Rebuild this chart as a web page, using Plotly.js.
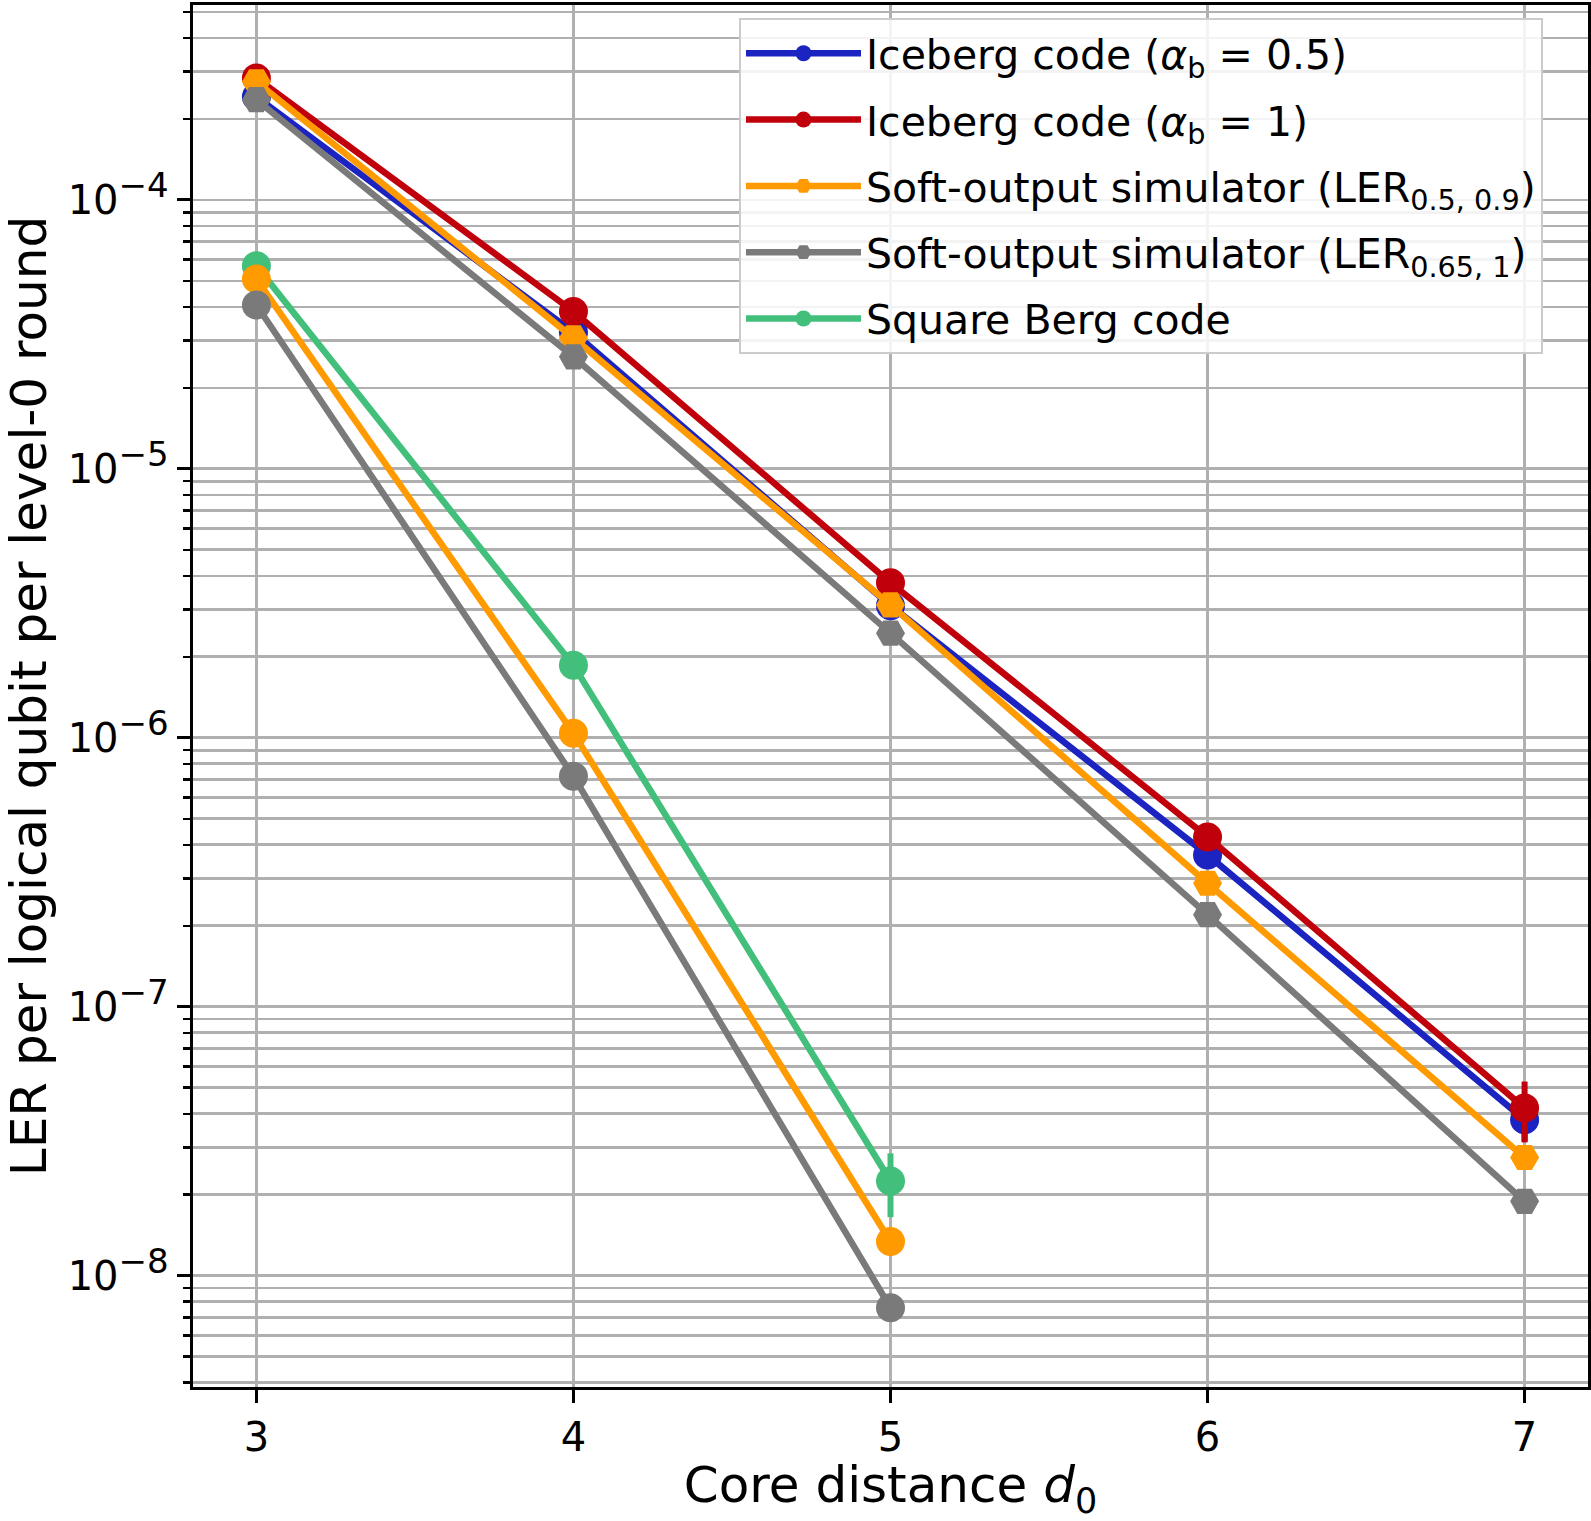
<!DOCTYPE html>
<html>
<head>
<meta charset="utf-8">
<script src="https://cdn.plot.ly/plotly-3.0.1.min.js"></script>
<style>
html,body{margin:0;padding:0;background:#fff;}
#chart{width:1591px;height:1521px;}
</style>
</head>
<body>
<div id="chart"></div>
<script>
// ---- data ----
const distance = [3, 4, 5, 6, 7];
const distanceShort = [3, 4, 5];

const icebergHalf      = [2.42e-4, 3.22e-5, 3.10e-6, 3.67e-7, 3.80e-8];
const icebergHalfErr   = [0.03e-4, 0.05e-5, 0.08e-6, 0.12e-7, 0.64e-8];
const icebergOne       = [2.84e-4, 3.85e-5, 3.77e-6, 4.28e-7, 4.20e-8];
const icebergOneErr    = [0.03e-4, 0.06e-5, 0.10e-6, 0.15e-7, 1.07e-8];
const softA            = [2.75e-4, 3.07e-5, 3.12e-6, 2.88e-7, 2.75e-8];
const softAErr         = [0.02e-4, 0.03e-5, 0.05e-6, 0.08e-7, 0.20e-8];
const softB            = [2.36e-4, 2.61e-5, 2.45e-6, 2.20e-7, 1.89e-8];
const softBErr         = [0.02e-4, 0.03e-5, 0.05e-6, 0.07e-7, 0.15e-8];

const squareBerg       = [5.69e-5, 1.86e-6, 2.25e-8];
const squareBergErr    = [0.05e-5, 0.04e-6, 0.60e-8];
const squareSoftA      = [5.08e-5, 1.04e-6, 1.34e-8];
const squareSoftAErr   = [0.03e-5, 0.02e-6, 0.10e-8];
const squareSoftB      = [4.07e-5, 7.19e-7, 7.60e-9];
const squareSoftBErr   = [0.03e-5, 0.15e-7, 0.08e-9];

const seriesNames = [
  'Iceberg code (<i>α</i><sub>b</sub> = 0.5)',
  'Iceberg code (<i>α</i><sub>b</sub> = 1)',
  'Soft-output simulator (LER<sub>0.5, 0.9</sub>)',
  'Soft-output simulator (LER<sub>0.65, 1</sub>)',
  'Square Berg code'
];

const xTickVals = [3, 4, 5, 6, 7];
const xTickText = ['3', '4', '5', '6', '7'];
const yTickVals = [1e-8, 1e-7, 1e-6, 1e-5, 1e-4];
const yTickExp  = ['−8', '−7', '−6', '−5', '−4'];
const yTickText = yTickExp.map(e => '10<sup><span style="font-size:34px">' + e + '</span></sup>');

// ---- styling ----
const COLORS = {blue:'#1b23c0', red:'#c0000a', orange:'#ff9a00', gray:'#7a7a7a', green:'#41bf7b'};
const LW = 6.5, MS = 29;

// minor ticks 2..9 per decade
const yMinor = [];
for (let e = -9; e <= -4; e++) {
  for (let m = 2; m <= 9; m++) yMinor.push(m * Math.pow(10, e));
}

function tr(x, y, err, color, symbol, name, rank, show) {
  return {
    type: 'scatter', mode: 'lines+markers', x: x, y: y,
    name: name || '', showlegend: !!show, legendrank: rank || 1000,
    legendgroup: name ? 'g' + rank : undefined,
    line: {color: color, width: LW},
    marker: {color: color, size: MS, symbol: symbol, line: {width: 0}},
    error_y: {type: 'data', array: err, visible: true, color: color, thickness: 6, width: 0},
    hoverinfo: 'x+y'
  };
}

const data = [
  tr(distance, icebergHalf, icebergHalfErr, COLORS.blue, 'circle', seriesNames[0], 1, true),
  tr(distance, icebergOne, icebergOneErr, COLORS.red, 'circle', seriesNames[1], 2, true),
  tr(distanceShort, squareBerg, squareBergErr, COLORS.green, 'circle', seriesNames[4], 5, true),
  tr(distance, softA, softAErr, COLORS.orange, 'hexagon2', seriesNames[2], 3, true),
  tr(distanceShort, squareSoftA, squareSoftAErr, COLORS.orange, 'circle', null, 0, false),
  tr(distance, softB, softBErr, COLORS.gray, 'hexagon2', seriesNames[3], 4, true),
  tr(distanceShort, squareSoftB, squareSoftBErr, COLORS.gray, 'circle', null, 0, false)
];

const FONT = 'DejaVu Sans, Liberation Sans, sans-serif';
const layout = {
  width: 1591, height: 1521,
  paper_bgcolor: '#ffffff', plot_bgcolor: '#ffffff',
  margin: {l: 193, r: 3, t: 5, b: 134, pad: 0},
  font: {family: FONT, size: 40, color: '#000'},
  showlegend: true,
  legend: {
    x: 0.3914, y: 0.9905, xanchor: 'left', yanchor: 'top',
    bgcolor: 'rgba(255,255,255,0.85)', bordercolor: '#cccccc', borderwidth: 2,
    font: {family: FONT, size: 41, color: '#000'},
    traceorder: 'grouped', tracegroupgap: 10, itemwidth: 115
  },
  xaxis: {
    type: 'linear', range: [2.8, 7.2],
    tickmode: 'array', tickvals: xTickVals, ticktext: xTickText,
    ticks: 'outside', ticklen: 13, tickwidth: 3, tickcolor: '#000',
    showline: true, mirror: true, linecolor: '#000', linewidth: 3.3,
    showgrid: true, gridcolor: '#b0b0b0', gridwidth: 2.8, zeroline: false,
    tickfont: {family: FONT, size: 40, color: '#000'},
    title: {text: 'Core distance <i>d</i><sub>0</sub>', font: {family: FONT, size: 50, color: '#000'}, standoff: 28}
  },
  yaxis: {
    type: 'log', range: [-8.414, -3.275],
    tickmode: 'array', tickvals: yTickVals, ticktext: yTickText,
    ticks: 'outside', ticklen: 13, tickwidth: 3, tickcolor: '#000',
    showline: true, mirror: true, linecolor: '#000', linewidth: 3.3,
    showgrid: true, gridcolor: '#b0b0b0', gridwidth: 2.8, zeroline: false,
    tickfont: {family: FONT, size: 40, color: '#000'},
    minor: {tickmode: 'array', tickvals: yMinor, ticks: 'outside', ticklen: 7, tickwidth: 2.5, tickcolor: '#000',
            showgrid: true, gridcolor: '#b0b0b0', gridwidth: 2.8},
    title: {text: 'LER per logical qubit per level-0 round', font: {family: FONT, size: 50, color: '#000'}, standoff: 32}
  }
};

Plotly.newPlot('chart', data, layout, {staticPlot: true, displayModeBar: false});
</script>
</body>
</html>
